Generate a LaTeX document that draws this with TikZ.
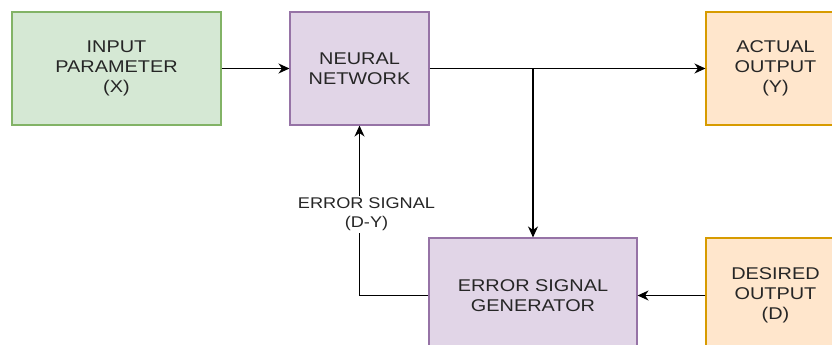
\documentclass[tikz,border=0pt]{standalone}
\usepackage{fontspec}
\setmainfont{Liberation Sans}[FakeStretch=1.17]
\usetikzlibrary{arrows.meta}

\definecolor{greenfill}{HTML}{D5E8D4}
\definecolor{greenline}{HTML}{82B366}
\definecolor{purplefill}{HTML}{E1D5E7}
\definecolor{purpleline}{HTML}{9673A6}
\definecolor{orangefill}{HTML}{FFE6CC}
\definecolor{orangeline}{HTML}{D79B00}
\definecolor{textgray}{HTML}{262626}

\begin{document}
\begin{tikzpicture}[x=1pt, y=-1pt, line width=1.25pt, >={Stealth[length=11pt, width=10pt, inset=3.5pt]},
	block/.style={rectangle, draw, line width=1.1pt, minimum height=113pt, align=center, text=textgray, font=\fontsize{17}{20}\selectfont},
	input block/.style={block, fill=greenfill, draw=greenline, minimum width=209pt},
	net block/.style={block, fill=purplefill, draw=purpleline, minimum width=139pt},
	output block/.style={block, fill=orangefill, draw=orangeline, minimum width=139pt}]
	\clip (0,0) rectangle (832,345);

	\node[input block] (input) at (116.5,68.5) {INPUT\\PARAMETER\\(X)};
	\node[net block] (net) at (359.5,68.5) {NEURAL\\NETWORK};
	\node[output block] (actual) at (775.5,68.5) {ACTUAL\\OUTPUT\\(Y)};
	\node[net block, minimum width=208pt, minimum height=115pt] (gen) at (533,295.5) {ERROR SIGNAL\\GENERATOR};
	\node[output block, minimum height=115pt] (desired) at (775.5,295.5) {DESIRED\\OUTPUT\\(D)};
	\coordinate (split) at (533,68.5);

	\draw[->] (input) -- (net);
	\draw[->] (net) -- (actual);
	\draw[->] (split) -- (gen);
	\draw[->] (desired) -- (gen);
	\draw[->] (gen.west) -| (net.south)
		node[pos=0.75, xshift=7pt, yshift=-4pt, fill=white, inner sep=2pt, align=center, text=textgray, font=\fontsize{15.5}{19}\selectfont] (err) {ERROR SIGNAL\\(D-Y)};
\end{tikzpicture}
\end{document}
